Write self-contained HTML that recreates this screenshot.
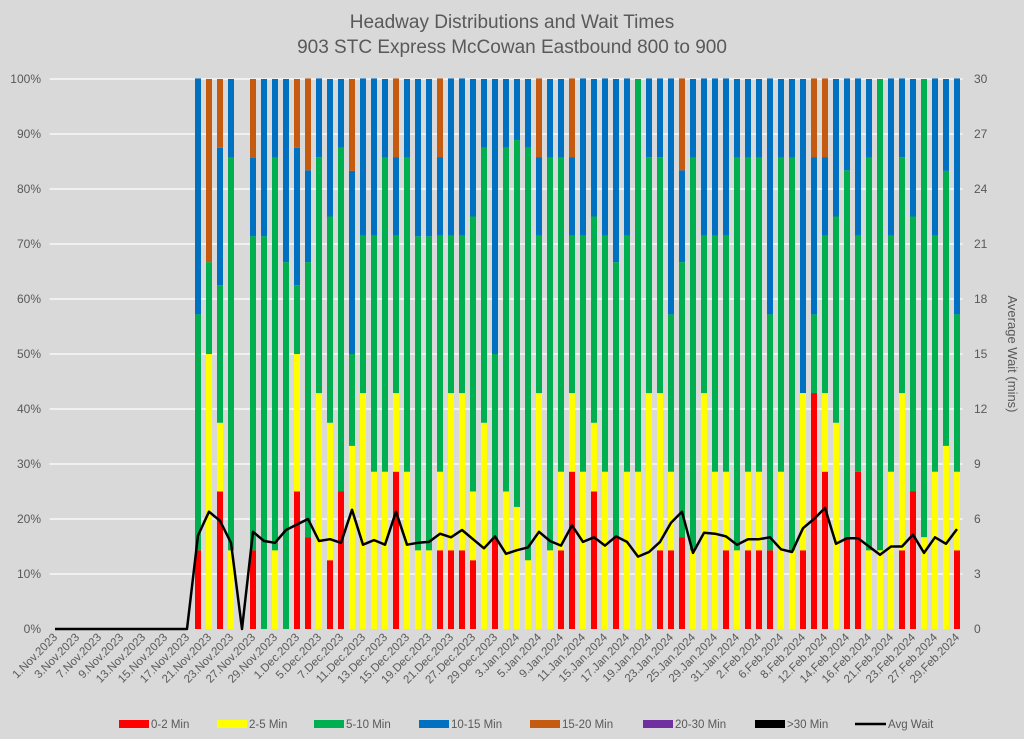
<!DOCTYPE html>
<html><head><meta charset="utf-8"><style>
html,body{margin:0;padding:0;background:#d9d9d9;}
svg{display:block;font-family:"Liberation Sans",sans-serif;}
</style></head><body>
<svg id="chart" width="1024" height="739" viewBox="0 0 1024 739" xmlns="http://www.w3.org/2000/svg">
<rect x="0" y="0" width="1024" height="739" fill="#d9d9d9"/>
<text x="512" y="28" text-anchor="middle" font-size="19" fill="#595959">Headway Distributions and Wait Times</text>
<text x="512" y="53" text-anchor="middle" font-size="19" fill="#595959">903 STC Express  McCowan Eastbound 800 to 900</text>
<g id="grid"></g>
<g id="bars"></g>
<g id="line"></g>
<g id="axes"></g>
<text transform="translate(1008,354) rotate(90)" text-anchor="middle" font-size="13" fill="#595959">Average Wait (mins)</text>
<g id="legend"></g>
</svg>
<script>
// Data (percent of headways per category) — 83 weekday categories
const Z13=[0,0,0,0,0,0,0,0,0,0,0,0,0];
const red    =[...Z13,14.3,0,25,0,0,14.3,0,0,0,25,16.7,0,12.5,25,0,0,0,0,28.6,0,0,0,14.3,14.3,14.3,12.5,0,16.7,0,0,0,0,0,14.3,28.6,0,25,0,16.7,0,0,0,14.3,14.3,16.7,0,0,0,14.3,0,14.3,14.3,14.3,0,0,14.3,42.9,28.6,0,16.7,28.6,0,0,0,14.3,25,0,0,0,14.3];
const yellow =[...Z13,0,50,12.5,14.3,0,0,0,14.3,0,25,0,42.9,25,0,33.3,42.9,28.6,28.6,14.3,28.6,14.3,14.3,14.3,28.6,28.6,12.5,37.5,0,25,22.2,12.5,42.9,14.3,14.3,14.3,28.6,12.5,28.6,0,28.6,28.6,42.9,28.6,14.3,0,14.3,42.9,28.6,14.3,14.3,14.3,14.3,0,28.6,14.3,28.6,0,14.3,37.5,0,0,14.3,14.3,28.6,28.6,0,16.7,28.6,33.3,14.3];
const green  =[...Z13,42.9,16.7,25,71.4,0,57.1,71.4,71.4,66.7,12.5,50,42.9,37.5,62.5,16.7,28.6,42.9,57.1,28.6,57.1,57.1,57.1,42.9,28.6,28.6,50,50,33.3,62.5,66.7,75,28.6,71.4,57.1,28.6,42.9,37.5,42.9,50,42.9,71.4,42.9,42.9,28.6,50,71.4,28.6,42.9,42.9,71.4,57.1,57.1,42.9,57.1,71.4,0,14.3,28.6,37.5,66.7,42.9,71.4,85.7,42.9,42.9,50,83.3,42.9,50,28.6];
const blue   =[...Z13,42.9,0,25,14.3,0,14.3,28.6,14.3,33.3,25,16.7,14.3,25,12.5,33.3,28.6,28.6,14.3,14.3,14.3,28.6,28.6,14.3,28.6,28.6,25,12.5,50,12.5,11.1,12.5,14.3,14.3,14.3,14.3,28.6,25,28.6,33.3,28.6,0,14.3,14.3,42.9,16.7,14.3,28.6,28.6,28.6,14.3,14.3,14.3,42.9,14.3,14.3,57.1,28.6,14.3,25,16.7,28.6,14.3,0,28.6,14.3,25,0,28.6,16.7,42.9];
const orange =[...Z13,0,33.3,12.5,0,0,14.3,0,0,0,12.5,16.7,0,0,0,16.7,0,0,0,14.3,0,0,0,14.3,0,0,0,0,0,0,0,0,14.3,0,0,14.3,0,0,0,0,0,0,0,0,0,16.7,0,0,0,0,0,0,0,0,0,0,0,14.3,14.3,0,0,0,0,0,0,0,0,0,0,0,0];
const purple =new Array(83).fill(0);
const black  =new Array(83).fill(0);
const avgWait=[...Z13,5.1,6.4,5.9,4.7,0,5.3,4.8,4.7,5.4,5.7,6.0,4.8,4.9,4.7,6.5,4.6,4.85,4.6,6.4,4.6,4.7,4.75,5.2,5.0,5.4,4.9,4.4,5.05,4.1,4.3,4.45,5.3,4.8,4.55,5.65,4.75,5.0,4.55,5.05,4.75,3.95,4.2,4.75,5.8,6.4,4.15,5.25,5.2,5.05,4.6,4.9,4.9,5.0,4.35,4.2,5.5,6.0,6.6,4.65,4.95,4.95,4.5,4.05,4.5,4.5,5.15,4.15,5.0,4.65,5.45];
const leftTicks=["0%","10%","20%","30%","40%","50%","60%","70%","80%","90%","100%"];
const rightTicks=["0","3","6","9","12","15","18","21","24","27","30"];
const holidays=["2023-12-25","2023-12-26","2024-01-01","2024-02-19"];
const monthNames=["Jan","Feb","Mar","Apr","May","Jun","Jul","Aug","Sep","Oct","Nov","Dec"];
const categories=[];
(function(){let d=new Date(Date.UTC(2023,10,1));const end=new Date(Date.UTC(2024,1,29));
while(d<=end){const wd=d.getUTCDay();const iso=d.toISOString().slice(0,10);
if(wd!==0&&wd!==6&&holidays.indexOf(iso)<0)categories.push(d.getUTCDate()+"."+monthNames[d.getUTCMonth()]+"."+d.getUTCFullYear());
d=new Date(d.getTime()+86400000);}})();

const NS="http://www.w3.org/2000/svg";
const L=49.5,R=962.5,T=79,B=629;
const n=categories.length, step=(R-L)/n, bw=6;
const xC=i=>L+(i+0.5)*step;
const yP=v=>B-(v/100)*(B-T);
const yW=v=>B-(v/30)*(B-T);
function mk(tag,attrs,parent){const e=document.createElementNS(NS,tag);for(const k in attrs)e.setAttribute(k,attrs[k]);parent.appendChild(e);return e;}
const grid=document.getElementById('grid'),bars=document.getElementById('bars'),axes=document.getElementById('axes'),lineG=document.getElementById('line'),leg=document.getElementById('legend');
leftTicks.forEach((t,k)=>{const y=yP(k*10);
 if(k>0){const g=mk('line',{x1:L,x2:R,y1:y,y2:y,stroke:'#ffffff','stroke-width':1.3},grid);
 
 }
 const tl=mk('text',{x:41,y:y+4,'text-anchor':'end','font-size':12,fill:'#595959'},axes);tl.textContent=t;
 
 
 const tr=mk('text',{x:974,y:y+4,'text-anchor':'start','font-size':12,fill:'#595959'},axes);tr.textContent=rightTicks[k];
 
 
});
const series=[[red,'#ff0000','0-2 Min'],[yellow,'#ffff00','2-5 Min'],[green,'#00b050','5-10 Min'],[blue,'#0070c0','10-15 Min'],[orange,'#c55a11','15-20 Min'],[purple,'#7030a0','20-30 Min'],[black,'#000000','>30 Min']];
for(let i=0;i<n;i++){let acc=0;
 series.forEach(s=>{const v=s[0][i]||0;if(v>0){const y1=yP(acc),y2=yP(acc+v);
  const r=mk('rect',{x:xC(i)-bw/2,y:y2,width:bw,height:y1-y2,fill:s[1]},bars);
  
  }acc+=v;});
 if(i%2===0){const x=xC(i)+3,y=638;
  const t=mk('text',{x:x,y:y,'text-anchor':'end','font-size':11.5,fill:'#595959',transform:`rotate(-45 ${x} ${y})`},axes);t.textContent=categories[i];
  
  }
}
const pts=avgWait.map((v,i)=>xC(i).toFixed(1)+','+yW(v).toFixed(1)).join(' ');
const pl=mk('polyline',{points:pts,fill:'none',stroke:'#000','stroke-width':2.5,'stroke-linejoin':'round'},lineG);


const legX=[119,217,314,419,530,643,755];
series.forEach((s,k)=>{const r=mk('rect',{x:legX[k],y:720,width:30,height:8,fill:s[1]},leg);
 
 
 const t=mk('text',{x:legX[k]+32,y:728,'font-size':11.5,fill:'#595959'},leg);t.textContent=s[2];
 
 });
const ll=mk('line',{x1:855,x2:886,y1:724,y2:724,stroke:'#000','stroke-width':2.5},leg);


const lt=mk('text',{x:888,y:728,'font-size':11.5,fill:'#595959'},leg);lt.textContent='Avg Wait';


</script>
</body></html>
